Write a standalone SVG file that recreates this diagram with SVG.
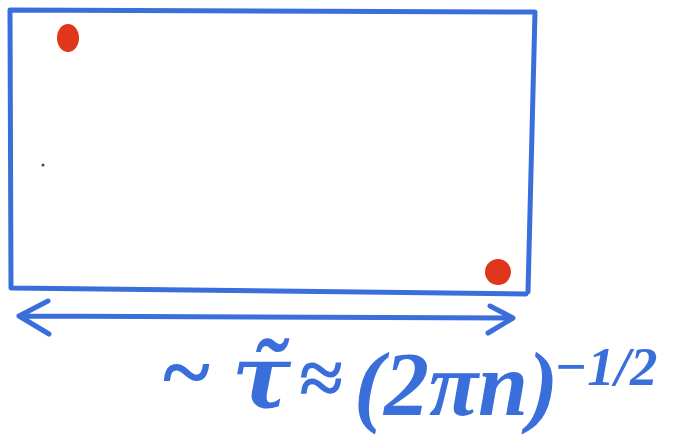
<svg xmlns="http://www.w3.org/2000/svg" width="677" height="448" viewBox="0 0 677 448">
<style>
.pen{fill:none;stroke:#3a6edb;stroke-width:5;stroke-linecap:round;stroke-linejoin:round}
.dot{fill:#e0361c}
.f{fill:#3a6edb;font-family:"Liberation Serif",serif;font-style:italic;font-weight:bold}
</style>
<rect width="677" height="448" fill="#fff"/>
<g id="box">
<path class="pen" d="M10,10 L535,12 M10,10 L11,288 M11,288 L526,294 M535,12 L528,292"/>
</g>
<g id="dot1"><ellipse class="dot" cx="68" cy="38" rx="11" ry="14"/></g>
<g id="dot2"><ellipse class="dot" cx="498" cy="272" rx="13" ry="13"/></g>
<circle cx="43" cy="165" r="1.5" fill="#444"/>
<g id="connectors">
<path class="pen" d="M19,316 L513,318 M48,301 L19,316 L49,334 M490,306 L513,318 L488,333"/>
</g>
<g id="formula">
<text class="f" x="160" y="402" font-size="90">~</text>
<text class="f" x="232" y="408" font-size="88" style="font-family:'DejaVu Serif',serif">τ̃</text>
<text class="f" x="298" y="405" font-size="80">≈</text>
<text class="f" x="354" y="415" font-size="90">(2πn)</text>
<text class="f" x="554" y="385" font-size="55">−1/2</text>
</g>
</svg>
